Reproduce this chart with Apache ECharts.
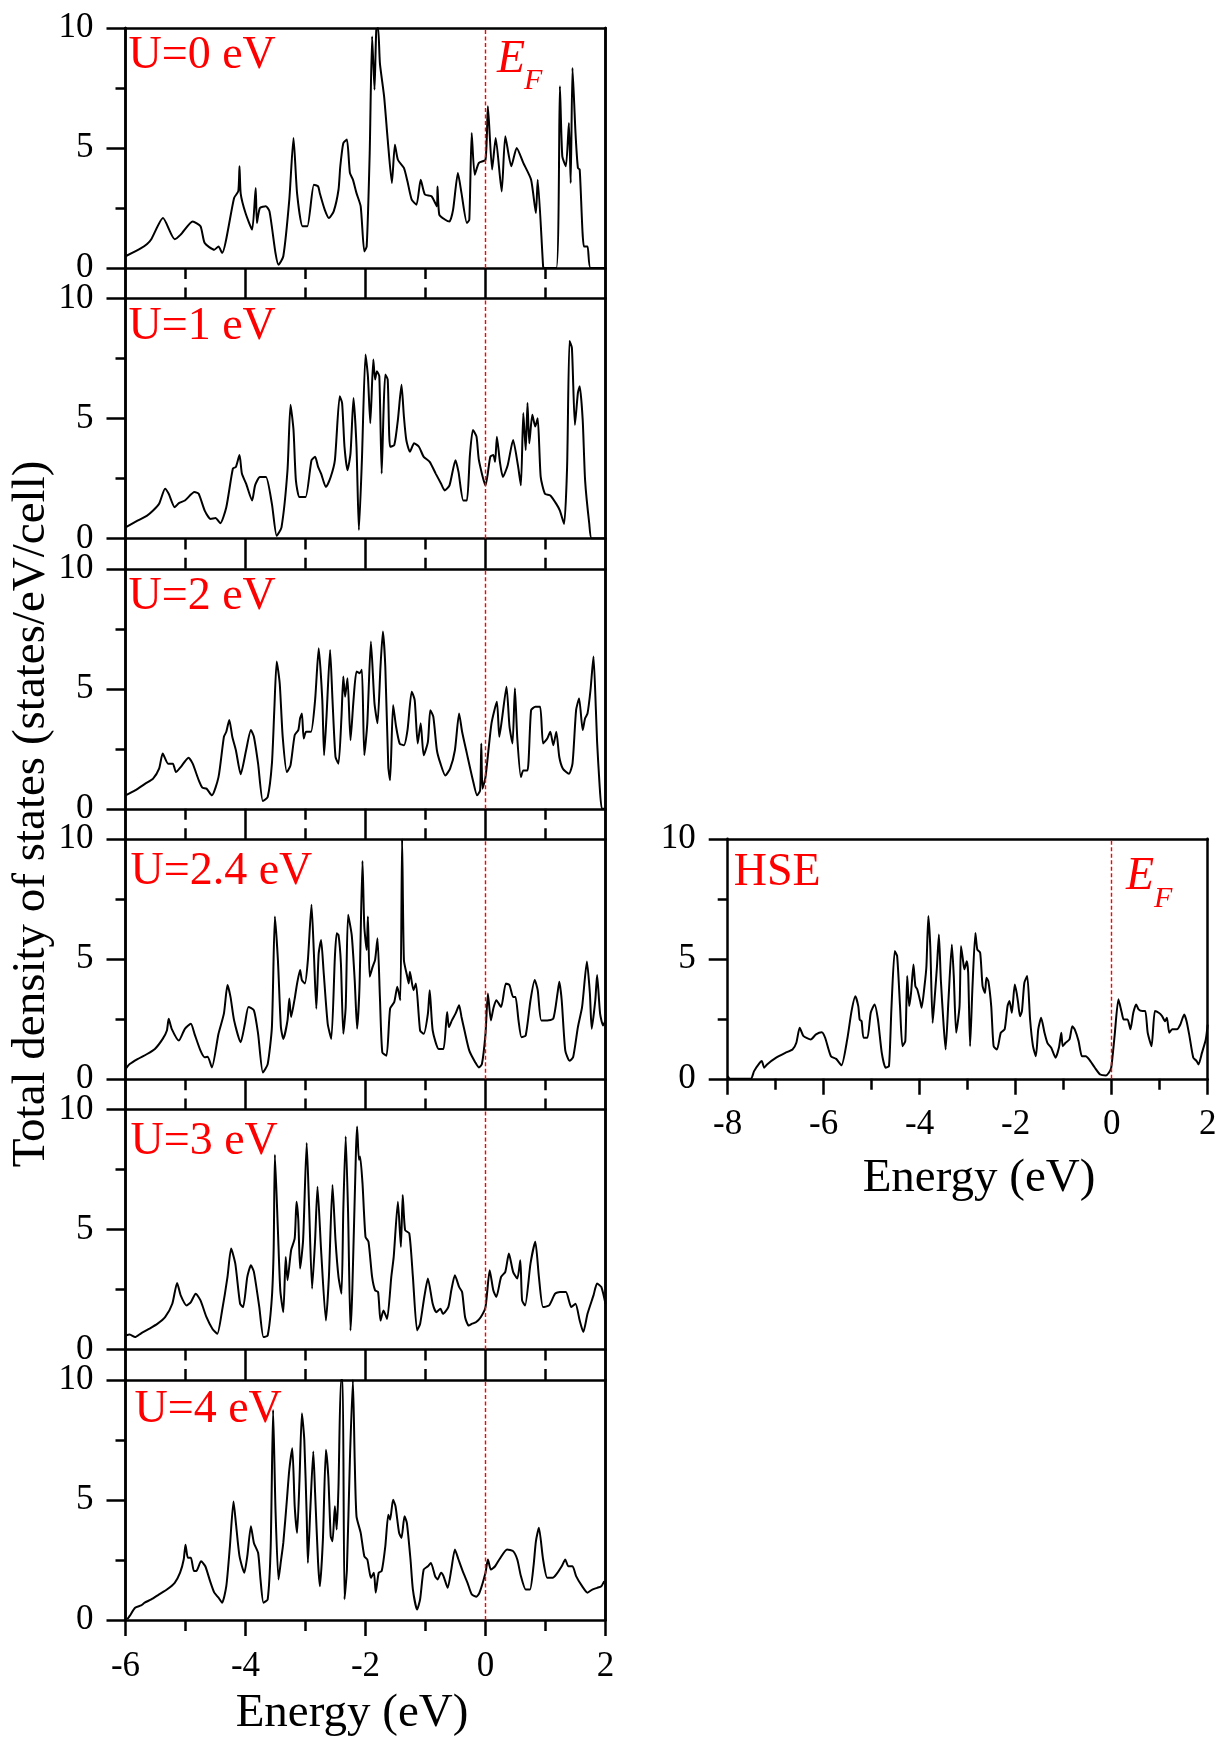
<!DOCTYPE html>
<html>
<head>
<meta charset="utf-8">
<title>Total DOS</title>
<script src="https://cdn.jsdelivr.net/npm/echarts@6/dist/echarts.min.js"></script>
<style>
  html, body { margin: 0; padding: 0; background: #fff; }
  #chart { width: 1221px; height: 1742px; }
</style>
</head>
<body>
<div id="chart"></div>
<script>
// panel names (left column, top to bottom)
var panelNames = ['U=0 eV', 'U=1 eV', 'U=2 eV', 'U=2.4 eV', 'U=3 eV', 'U=4 eV'];

// energy (eV), total DOS (states/eV/cell)
var dosU0 = [[-6,0.49],[-5.74,0.83],[-5.64,1.0],[-5.57,1.2],[-5.375,2.08],[-5.18,1.2],[-5.08,1.39],[-4.88,1.94],[-4.75,1.74],[-4.68,1.04],[-4.52,0.76],[-4.45,0.9],[-4.39,0.62],[-4.19,2.92],[-4.12,3.2],[-4.10,4.24],[-4.08,3.1],[-4.0,2.29],[-3.89,1.6],[-3.83,3.33],[-3.81,1.88],[-3.76,2.5],[-3.66,2.57],[-3.6,2.36],[-3.5,0.62],[-3.45,0.14],[-3.37,0.49],[-3.27,2.85],[-3.2,5.42],[-3.14,3.1],[-3.05,1.74],[-2.97,1.74],[-2.86,3.47],[-2.79,3.4],[-2.76,3.1],[-2.68,2.43],[-2.61,2.08],[-2.53,2.36],[-2.45,3.26],[-2.42,4.24],[-2.37,5.2],[-2.31,5.35],[-2.26,3.96],[-2.21,3.68],[-2.15,3.12],[-2.08,2.57],[-2.02,0.69],[-1.98,0.9],[-1.93,4.79],[-1.89,9.65],[-1.85,7.43],[-1.82,9.93],[-1.79,10],[-1.76,8.54],[-1.69,7.15],[-1.63,5.35],[-1.56,3.54],[-1.51,5.14],[-1.46,4.51],[-1.36,4.17],[-1.3,3.6],[-1.23,2.85],[-1.15,2.64],[-1.08,3.68],[-1.01,3.06],[-0.9,2.99],[-0.81,2.57],[-0.8,3.4],[-0.77,2.22],[-0.67,2.01],[-0.6,1.94],[-0.54,2.43],[-0.46,3.96],[-0.4,3.12],[-0.31,1.88],[-0.27,2.01],[-0.23,5.63],[-0.18,3.89],[-0.11,4.38],[0,4.51],[0.04,6.74],[0.11,4.1],[0.17,5.42],[0.27,3.19],[0.33,5.49],[0.43,4.24],[0.52,5.0],[0.63,4.38],[0.76,3.68],[0.84,2.29],[0.87,3.68],[0.96,0.07],[0.97,0],[1.18,0],[1.24,7.57],[1.28,4.65],[1.34,4.24],[1.39,6.04],[1.42,3.54],[1.45,8.33],[1.5,5.63],[1.54,4.17],[1.57,4.1],[1.64,0.9],[1.7,0.9],[1.75,0],[2,0]];

var dosU1 = [[-6,0.46],[-5.8,0.74],[-5.64,0.95],[-5.54,1.16],[-5.44,1.44],[-5.34,2.07],[-5.28,1.86],[-5.18,1.3],[-5.11,1.47],[-5.01,1.58],[-4.85,1.93],[-4.78,1.86],[-4.68,1.16],[-4.58,0.81],[-4.5,0.85],[-4.42,0.63],[-4.32,1.3],[-4.21,2.91],[-4.16,2.98],[-4.1,3.47],[-4.06,2.7],[-3.99,2.28],[-3.89,1.58],[-3.84,2.21],[-3.76,2.56],[-3.66,2.56],[-3.56,1.44],[-3.48,0.11],[-3.4,0.46],[-3.3,2.84],[-3.25,5.57],[-3.2,4.52],[-3.16,2.42],[-3.1,1.72],[-3.0,1.72],[-2.9,3.26],[-2.84,3.4],[-2.79,2.98],[-2.74,2.7],[-2.66,2.14],[-2.58,2.56],[-2.51,3.26],[-2.43,5.92],[-2.39,5.64],[-2.35,3.82],[-2.3,2.84],[-2.25,3.54],[-2.2,5.85],[-2.15,3.82],[-2.11,0.35],[-2.06,3.26],[-2.0,7.66],[-1.96,6.76],[-1.92,4.8],[-1.87,7.45],[-1.84,6.62],[-1.81,6.96],[-1.77,6.76],[-1.73,2.7],[-1.7,5.22],[-1.67,6.83],[-1.63,6.62],[-1.59,3.82],[-1.52,3.89],[-1.46,4.94],[-1.4,6.4],[-1.36,5.08],[-1.32,4.1],[-1.26,3.61],[-1.19,3.96],[-1.11,3.82],[-1.03,3.4],[-0.93,3.19],[-0.83,2.7],[-0.74,2.28],[-0.68,2.0],[-0.6,2.21],[-0.5,3.26],[-0.45,2.77],[-0.37,1.58],[-0.31,1.58],[-0.26,3.47],[-0.21,4.52],[-0.15,4.24],[-0.11,3.26],[0,2.21],[0.08,3.4],[0.13,3.47],[0.16,3.19],[0.19,4.24],[0.24,3.19],[0.29,2.56],[0.37,3.05],[0.46,4.1],[0.54,3.05],[0.59,2.21],[0.63,5.22],[0.67,3.68],[0.7,5.64],[0.73,3.96],[0.78,5.15],[0.83,4.66],[0.87,5.01],[0.92,2.56],[0.99,1.86],[1.08,1.79],[1.18,1.44],[1.24,1.16],[1.31,0.6],[1.36,2.98],[1.4,8.22],[1.44,7.94],[1.49,4.73],[1.54,6.06],[1.57,6.34],[1.62,4.94],[1.66,2.42],[1.73,0.6],[1.77,0],[2,0]];

var dosU2 = [[-6,0.56],[-5.84,0.77],[-5.67,1.05],[-5.54,1.26],[-5.44,1.67],[-5.38,2.3],[-5.29,1.88],[-5.21,1.88],[-5.16,1.53],[-5.08,1.74],[-4.95,2.13],[-4.88,1.88],[-4.78,1.19],[-4.72,0.88],[-4.65,0.84],[-4.56,0.56],[-4.45,1.32],[-4.36,3.0],[-4.32,3.21],[-4.27,3.7],[-4.22,3.0],[-4.16,2.44],[-4.08,1.44],[-3.99,2.44],[-3.91,3.28],[-3.86,3.0],[-3.79,1.88],[-3.71,0.32],[-3.63,0.49],[-3.56,1.88],[-3.52,4.11],[-3.48,6.14],[-3.43,5.23],[-3.38,3.0],[-3.31,1.53],[-3.25,1.81],[-3.18,3.07],[-3.12,3.28],[-3.09,3.77],[-3.06,3.97],[-3.03,2.93],[-2.99,3.21],[-2.91,3.21],[-2.84,4.53],[-2.78,6.69],[-2.72,4.53],[-2.69,2.23],[-2.65,3.84],[-2.59,6.62],[-2.55,4.53],[-2.5,2.16],[-2.45,1.88],[-2.4,3.84],[-2.37,5.51],[-2.34,4.67],[-2.3,5.44],[-2.25,2.86],[-2.2,4.53],[-2.15,5.72],[-2.1,5.65],[-2.06,5.79],[-2.02,2.23],[-1.97,3.56],[-1.91,6.97],[-1.85,4.39],[-1.8,3.56],[-1.75,5.93],[-1.71,7.39],[-1.67,5.93],[-1.62,1.74],[-1.59,1.19],[-1.54,4.32],[-1.49,3.42],[-1.43,2.72],[-1.36,2.65],[-1.3,3.28],[-1.23,4.88],[-1.18,4.53],[-1.13,2.72],[-1.08,3.56],[-1.03,2.23],[-0.96,2.79],[-0.92,4.11],[-0.87,3.84],[-0.81,2.44],[-0.75,1.88],[-0.67,1.39],[-0.59,1.67],[-0.51,2.44],[-0.44,3.97],[-0.39,3.21],[-0.31,2.3],[-0.21,1.19],[-0.14,0.56],[-0.09,0.77],[-0.07,2.72],[-0.05,0.84],[0,1.32],[0.1,3.56],[0.19,4.46],[0.23,3.0],[0.28,3.84],[0.35,5.09],[0.4,3.42],[0.45,2.72],[0.49,5.02],[0.53,2.93],[0.59,1.32],[0.63,1.6],[0.7,1.6],[0.76,4.11],[0.83,4.25],[0.91,4.25],[0.96,2.72],[1.03,2.93],[1.08,3.21],[1.13,2.65],[1.18,3.21],[1.23,2.16],[1.29,1.67],[1.39,1.46],[1.45,1.88],[1.51,4.11],[1.56,4.6],[1.62,3.28],[1.66,3.77],[1.7,3.97],[1.75,4.95],[1.8,6.35],[1.84,4.11],[1.86,2.79],[1.9,1.05],[1.94,0],[2,0]];

var dosU24 = [[-6,0.42],[-5.93,0.63],[-5.8,0.84],[-5.64,1.05],[-5.51,1.26],[-5.38,1.68],[-5.31,2.03],[-5.28,2.52],[-5.23,2.1],[-5.11,1.61],[-5.01,2.1],[-4.91,2.31],[-4.85,1.89],[-4.75,1.19],[-4.68,0.91],[-4.63,0.94],[-4.56,0.49],[-4.45,1.89],[-4.36,2.73],[-4.3,3.92],[-4.25,3.43],[-4.19,2.45],[-4.08,1.54],[-4.01,2.31],[-3.95,3.01],[-3.86,2.87],[-3.79,1.89],[-3.71,0.28],[-3.63,0.63],[-3.56,2.17],[-3.51,6.78],[-3.46,4.97],[-3.41,2.17],[-3.37,1.68],[-3.3,2.45],[-3.27,3.36],[-3.24,2.59],[-3.18,3.36],[-3.14,3.99],[-3.09,4.55],[-3.06,4.13],[-3.01,3.99],[-2.96,4.97],[-2.9,7.27],[-2.86,5.24],[-2.82,2.94],[-2.78,5.24],[-2.74,5.8],[-2.7,4.55],[-2.63,2.31],[-2.57,1.68],[-2.51,5.1],[-2.48,6.08],[-2.45,6.01],[-2.41,4.83],[-2.37,1.89],[-2.33,3.01],[-2.29,6.85],[-2.23,6.01],[-2.18,4.13],[-2.14,2.1],[-2.1,3.85],[-2.05,9.09],[-2.02,6.36],[-1.98,5.38],[-1.96,6.78],[-1.93,4.27],[-1.88,4.69],[-1.84,4.97],[-1.8,5.87],[-1.76,3.43],[-1.72,1.12],[-1.65,0.98],[-1.59,2.94],[-1.52,3.22],[-1.47,3.85],[-1.42,3.29],[-1.39,10],[-1.36,4.97],[-1.31,4.34],[-1.28,3.99],[-1.26,4.48],[-1.2,3.71],[-1.16,3.99],[-1.09,2.03],[-1.03,1.89],[-0.96,2.73],[-0.93,3.71],[-0.88,2.03],[-0.78,1.26],[-0.7,1.26],[-0.64,2.8],[-0.61,2.17],[-0.56,2.45],[-0.5,2.73],[-0.44,3.08],[-0.4,2.59],[-0.35,2.03],[-0.27,1.19],[-0.17,0.7],[-0.11,0.49],[-0.06,0.63],[0,1.89],[0.04,3.57],[0.09,2.45],[0.13,2.94],[0.18,3.29],[0.26,3.01],[0.34,3.99],[0.4,3.92],[0.46,3.43],[0.5,3.43],[0.55,2.45],[0.6,1.75],[0.67,1.82],[0.75,3.29],[0.82,4.13],[0.87,3.71],[0.93,2.45],[1.03,2.45],[1.13,2.52],[1.2,3.57],[1.23,4.06],[1.27,3.29],[1.33,1.19],[1.4,0.77],[1.46,0.91],[1.54,2.17],[1.61,3.01],[1.69,4.9],[1.74,3.57],[1.77,2.1],[1.83,3.29],[1.86,4.34],[1.91,2.73],[1.96,2.24],[2,2.45]];

var dosU3 = [[-6,0.59],[-5.93,0.63],[-5.84,0.52],[-5.74,0.68],[-5.61,0.86],[-5.47,1.07],[-5.34,1.35],[-5.22,1.91],[-5.14,2.78],[-5.08,2.26],[-4.98,1.84],[-4.91,1.98],[-4.83,2.33],[-4.75,2.05],[-4.65,1.35],[-4.55,0.86],[-4.47,0.66],[-4.39,1.63],[-4.3,3.03],[-4.24,4.21],[-4.17,3.58],[-4.09,1.91],[-4.04,1.77],[-3.97,3.03],[-3.91,3.51],[-3.86,3.24],[-3.77,1.77],[-3.7,0.52],[-3.63,0.59],[-3.56,2.19],[-3.53,4.28],[-3.51,8.12],[-3.46,4.98],[-3.42,2.47],[-3.37,1.56],[-3.33,3.86],[-3.3,2.89],[-3.24,4.14],[-3.18,4.63],[-3.15,6.16],[-3.12,5.4],[-3.09,3.38],[-3.04,4.56],[-2.98,8.61],[-2.94,5.96],[-2.89,2.54],[-2.84,4.56],[-2.8,6.79],[-2.74,4.14],[-2.66,1.21],[-2.61,3.03],[-2.55,6.86],[-2.5,4.56],[-2.45,3.03],[-2.4,2.33],[-2.37,5.82],[-2.33,8.88],[-2.29,5.68],[-2.25,0.8],[-2.22,2.47],[-2.16,8.19],[-2.14,9.3],[-2.11,7.91],[-2.09,8.05],[-2.05,6.93],[-2.0,4.7],[-1.95,4.49],[-1.89,3.03],[-1.84,2.47],[-1.79,2.4],[-1.75,1.21],[-1.7,1.63],[-1.64,1.28],[-1.57,3.03],[-1.53,3.86],[-1.46,6.16],[-1.41,4.28],[-1.38,6.44],[-1.34,4.98],[-1.27,4.84],[-1.21,3.03],[-1.14,0.8],[-1.09,1.07],[-1.02,2.19],[-0.96,2.96],[-0.88,1.91],[-0.82,1.56],[-0.75,1.7],[-0.71,1.49],[-0.62,1.77],[-0.57,2.47],[-0.51,3.1],[-0.44,2.61],[-0.39,2.4],[-0.34,1.35],[-0.28,1.0],[-0.23,1.07],[-0.16,1.14],[-0.08,1.35],[0,1.77],[0.07,3.31],[0.13,2.47],[0.18,2.19],[0.26,3.03],[0.33,3.24],[0.39,4.0],[0.46,3.24],[0.53,2.96],[0.58,3.72],[0.61,2.05],[0.66,1.84],[0.75,3.58],[0.83,4.49],[0.89,3.03],[0.96,1.77],[1.06,1.84],[1.16,2.33],[1.24,2.4],[1.34,2.4],[1.43,1.77],[1.5,1.91],[1.57,1.21],[1.63,0.73],[1.7,1.49],[1.8,2.26],[1.86,2.75],[1.93,2.61],[2,1.91]];

var dosU4 = [[-5.97,0.03],[-5.93,0.17],[-5.84,0.51],[-5.74,0.61],[-5.68,0.72],[-5.57,0.86],[-5.44,1.07],[-5.31,1.27],[-5.18,1.55],[-5.09,1.97],[-5.03,2.52],[-5.0,3.14],[-4.96,2.59],[-4.91,2.59],[-4.86,2.04],[-4.82,2.04],[-4.74,2.45],[-4.67,2.24],[-4.59,1.62],[-4.52,1.14],[-4.45,0.93],[-4.39,0.72],[-4.32,1.41],[-4.26,3.07],[-4.2,4.94],[-4.16,4.04],[-4.1,2.66],[-4.02,1.97],[-3.97,2.66],[-3.91,3.91],[-3.86,3.21],[-3.79,2.8],[-3.75,1.69],[-3.7,0.72],[-3.63,0.86],[-3.58,3.07],[-3.54,8.75],[-3.5,4.6],[-3.45,1.69],[-3.41,2.45],[-3.37,3.21],[-3.31,5.01],[-3.27,6.26],[-3.22,7.16],[-3.18,4.74],[-3.14,3.63],[-3.1,5.84],[-3.06,8.61],[-3.02,7.5],[-2.98,4.32],[-2.96,2.38],[-2.92,4.6],[-2.87,7.02],[-2.84,5.29],[-2.79,2.38],[-2.76,1.41],[-2.71,3.35],[-2.66,7.09],[-2.62,5.98],[-2.58,3.49],[-2.55,3.28],[-2.51,4.74],[-2.48,3.77],[-2.45,5.57],[-2.41,10],[-2.38,10],[-2.35,0.86],[-2.31,2.1],[-2.26,6.68],[-2.21,10],[-2.18,6.68],[-2.15,4.32],[-2.08,3.63],[-2.02,2.66],[-1.97,2.52],[-1.94,2.1],[-1.91,1.76],[-1.86,1.97],[-1.83,1.14],[-1.78,1.97],[-1.73,2.04],[-1.67,3.07],[-1.62,4.39],[-1.59,4.18],[-1.54,5.01],[-1.5,4.74],[-1.44,3.63],[-1.4,3.42],[-1.35,4.32],[-1.31,4.04],[-1.25,2.52],[-1.21,1.27],[-1.14,0.44],[-1.09,0.86],[-1.03,2.1],[-0.96,2.24],[-0.91,2.38],[-0.84,1.83],[-0.8,1.69],[-0.74,1.97],[-0.7,1.83],[-0.63,1.34],[-0.57,2.1],[-0.51,2.94],[-0.45,2.52],[-0.37,1.97],[-0.3,1.55],[-0.23,1.07],[-0.15,0.97],[-0.1,1.14],[0,1.97],[0.04,2.52],[0.09,2.1],[0.16,2.24],[0.23,2.52],[0.36,2.94],[0.46,2.87],[0.53,2.52],[0.59,1.83],[0.67,1.27],[0.74,1.27],[0.8,2.24],[0.84,3.28],[0.89,3.84],[0.96,2.52],[1.03,1.76],[1.12,1.76],[1.18,1.9],[1.27,2.24],[1.33,2.52],[1.38,2.24],[1.45,2.24],[1.51,1.83],[1.61,1.41],[1.7,1.14],[1.78,1.27],[1.86,1.34],[1.93,1.41],[1.98,1.62]];

var dosHSE = [[-8,0.11],[-7.95,0],[-7.52,0],[-7.45,0.32],[-7.33,0.67],[-7.29,0.74],[-7.24,0.46],[-7.18,0.6],[-6.99,0.88],[-6.8,1.08],[-6.65,1.22],[-6.57,1.5],[-6.5,2.13],[-6.42,1.78],[-6.27,1.64],[-6.16,1.85],[-6.04,1.94],[-5.97,1.71],[-5.85,0.94],[-5.74,0.83],[-5.63,0.56],[-5.51,1.64],[-5.42,2.82],[-5.34,3.44],[-5.28,3.03],[-5.25,2.47],[-5.21,2.4],[-5.17,1.71],[-5.09,1.71],[-5.02,2.75],[-4.94,3.1],[-4.87,2.47],[-4.79,1.08],[-4.71,0.46],[-4.64,0.53],[-4.59,2.89],[-4.52,5.32],[-4.47,5.11],[-4.41,3.03],[-4.36,1.36],[-4.3,1.57],[-4.26,4.28],[-4.22,3.03],[-4.18,3.58],[-4.13,4.76],[-4.09,3.86],[-4.05,3.72],[-3.99,3.24],[-3.96,2.96],[-3.9,3.86],[-3.86,4.69],[-3.82,6.78],[-3.78,5.53],[-3.73,2.33],[-3.68,3.58],[-3.64,4.69],[-3.6,6.01],[-3.56,4.14],[-3.5,2.19],[-3.46,1.22],[-3.4,3.31],[-3.33,5.6],[-3.29,4.28],[-3.24,1.92],[-3.17,3.03],[-3.14,5.53],[-3.1,4.97],[-3.07,4.56],[-3.02,4.9],[-2.99,4.42],[-2.95,1.36],[-2.9,3.86],[-2.84,6.08],[-2.8,5.39],[-2.74,5.25],[-2.69,3.86],[-2.64,3.58],[-2.61,4.21],[-2.57,4.07],[-2.51,3.03],[-2.46,1.36],[-2.39,1.22],[-2.31,1.92],[-2.23,2.06],[-2.17,3.03],[-2.13,3.24],[-2.08,2.75],[-2.02,3.93],[-1.98,3.58],[-1.95,3.17],[-1.91,2.61],[-1.87,2.82],[-1.82,4.0],[-1.76,4.28],[-1.7,2.47],[-1.64,1.36],[-1.58,0.94],[-1.53,2.06],[-1.47,2.54],[-1.4,1.92],[-1.34,1.5],[-1.26,1.29],[-1.17,0.88],[-1.1,1.29],[-1.05,1.92],[-1.02,1.36],[-0.96,1.5],[-0.88,1.64],[-0.82,2.19],[-0.77,2.06],[-0.69,1.57],[-0.62,0.94],[-0.54,0.94],[-0.47,0.81],[-0.35,0.46],[-0.24,0.18],[-0.12,0.14],[-0.06,0.25],[-0.01,0.46],[0.06,1.78],[0.14,3.31],[0.21,2.75],[0.25,2.47],[0.33,2.47],[0.39,2.06],[0.45,2.75],[0.51,3.1],[0.56,2.89],[0.64,2.82],[0.7,2.82],[0.75,1.92],[0.83,1.36],[0.9,2.82],[0.98,2.75],[1.05,2.61],[1.11,2.4],[1.15,2.54],[1.2,1.92],[1.26,2.06],[1.36,2.06],[1.43,2.26],[1.51,2.68],[1.56,2.4],[1.62,1.78],[1.7,0.88],[1.77,0.74],[1.81,0.6],[1.88,1.08],[1.96,1.64],[2,2.26]];

var panelData = [dosU0, dosU1, dosU2, dosU24, dosU3, dosU4];

var serif = '"Liberation Serif", "Times New Roman", serif';
var axisLine = { show: true, onZero: false, lineStyle: { color: '#000', width: 2.5 } };
var tickLine = { color: '#000', width: 2.5 };

var left = 125.5, width = 480, height = 240;
var tops = [];
for (var i = 0; i < 6; i++) tops.push(28 + 270.4 * i);

var grids = [], xAxes = [], yAxes = [], series = [], graphics = [];

function efLine() {
    return {
        silent: true,
        symbol: ['none', 'none'],
        label: { show: false },
        lineStyle: { color: '#ff0000', type: [4, 2.5], width: 1.4 },
        data: [{ xAxis: 0 }]
    };
}

function addPanel(g, gl, gt, xmin, showBottomLabels, showTopTicks, data) {
    grids.push({ left: gl, top: gt, width: width, height: height });
    // bottom x axis
    xAxes.push({
        gridIndex: g, type: 'value', position: 'bottom', min: xmin, max: 2, interval: 2,
        axisLine: axisLine,
        axisTick: { show: true, inside: false, length: 16, lineStyle: tickLine },
        minorTick: { show: true, splitNumber: 2, length: 11, lineStyle: tickLine },
        axisLabel: { show: showBottomLabels, margin: 29, color: '#000', fontSize: 35, fontFamily: serif },
        splitLine: { show: false }, minorSplitLine: { show: false }
    });
    // top x axis
    xAxes.push({
        gridIndex: g, type: 'value', position: 'top', min: xmin, max: 2, interval: 2,
        axisLine: axisLine,
        axisTick: { show: showTopTicks, inside: false, length: 16, lineStyle: tickLine },
        minorTick: { show: showTopTicks, splitNumber: 2, length: 11, lineStyle: tickLine },
        axisLabel: { show: false },
        splitLine: { show: false }
    });
    // left y axis
    yAxes.push({
        gridIndex: g, type: 'value', position: 'left', min: 0, max: 10, interval: 5,
        axisLine: axisLine,
        axisTick: { show: true, inside: false, length: 19, lineStyle: tickLine },
        minorTick: { show: true, splitNumber: 2, length: 10, lineStyle: tickLine },
        axisLabel: { show: true, margin: 32, color: '#000', fontSize: 35, fontFamily: serif },
        splitLine: { show: false }
    });
    // right y axis (frame)
    yAxes.push({
        gridIndex: g, type: 'value', position: 'right', min: 0, max: 10,
        axisLine: axisLine, axisTick: { show: false }, axisLabel: { show: false }, splitLine: { show: false }
    });
    series.push({
        type: 'line', xAxisIndex: 2 * g, yAxisIndex: 2 * g,
        data: data, showSymbol: false, symbol: 'none', smooth: 0.2,
        lineStyle: { color: '#000', width: 2 },
        markLine: efLine(),
        z: 3
    });
}

for (var i = 0; i < 6; i++) {
    addPanel(i, left, tops[i], -6, i === 5, i > 0, panelData[i]);
}
var hseLeft = 727.7, hseTop = 838.8;
addPanel(6, hseLeft, hseTop, -8, true, false, dosHSE);

// frame that joins the stacked panels (left and right borders through the gaps)
grids.push({ left: left, top: tops[0], width: width, height: tops[5] + height - tops[0] });
xAxes.push({ gridIndex: 7, type: 'value', show: false, min: 0, max: 1 });
yAxes.push({ gridIndex: 7, type: 'value', position: 'left', min: 0, max: 1, axisLine: axisLine, axisTick: { show: false }, axisLabel: { show: false }, splitLine: { show: false } });
yAxes.push({ gridIndex: 7, type: 'value', position: 'right', min: 0, max: 1, axisLine: axisLine, axisTick: { show: false }, axisLabel: { show: false }, splitLine: { show: false } });

// panel labels (y is the text middle, baseline minus about a third of the size)
var labelDx = [3, 3, 3, 5, 5, 9];
var labelBase = [43, 44, 44, 48, 48, 45];
for (var i = 0; i < 6; i++) {
    graphics.push({
        type: 'text', x: left + labelDx[i], y: tops[i] + labelBase[i] - 15.5, z: 10,
        style: { text: panelNames[i], font: '46px ' + serif, fill: '#ff0000', align: 'left', verticalAlign: 'middle' }
    });
}
graphics.push({
    type: 'text', x: hseLeft + 6, y: 888 - 15.5, z: 10,
    style: { text: 'HSE', font: '46px ' + serif, fill: '#ff0000', align: 'left', verticalAlign: 'middle' }
});

// E_F labels
function addEF(xE, baseE, xF, baseF) {
    graphics.push({ type: 'text', x: xE, y: baseE - 15.5, z: 10,
        style: { text: 'E', font: 'italic 46px ' + serif, fill: '#ff0000', align: 'left', verticalAlign: 'middle' } });
    graphics.push({ type: 'text', x: xF, y: baseF - 10, z: 10,
        style: { text: 'F', font: 'italic 30px ' + serif, fill: '#ff0000', align: 'left', verticalAlign: 'middle' } });
}
addEF(497, 75, 524, 91);
addEF(1126, 892, 1154, 909);

// axis titles
var titleFont = '47px ' + serif;
graphics.push({ type: 'text', x: 352, y: 1714, z: 10,
    style: { text: 'Energy (eV)', font: titleFont, fill: '#000', align: 'center', verticalAlign: 'middle' } });
graphics.push({ type: 'text', x: 979, y: 1179, z: 10,
    style: { text: 'Energy (eV)', font: titleFont, fill: '#000', align: 'center', verticalAlign: 'middle' } });
graphics.push({ type: 'text', x: 32, y: 814, rotation: Math.PI / 2, z: 10,
    style: { text: 'Total density of states (states/eV/cell)', font: titleFont, fill: '#000', align: 'center', verticalAlign: 'middle' } });

var myChart = echarts.init(document.getElementById('chart'), null, { renderer: 'canvas' });
var option = {
    backgroundColor: '#fff',
    animation: false,
    grid: grids,
    xAxis: xAxes,
    yAxis: yAxes,
    series: series,
    graphic: graphics
};
myChart.setOption(option);
</script>
</body>
</html>
